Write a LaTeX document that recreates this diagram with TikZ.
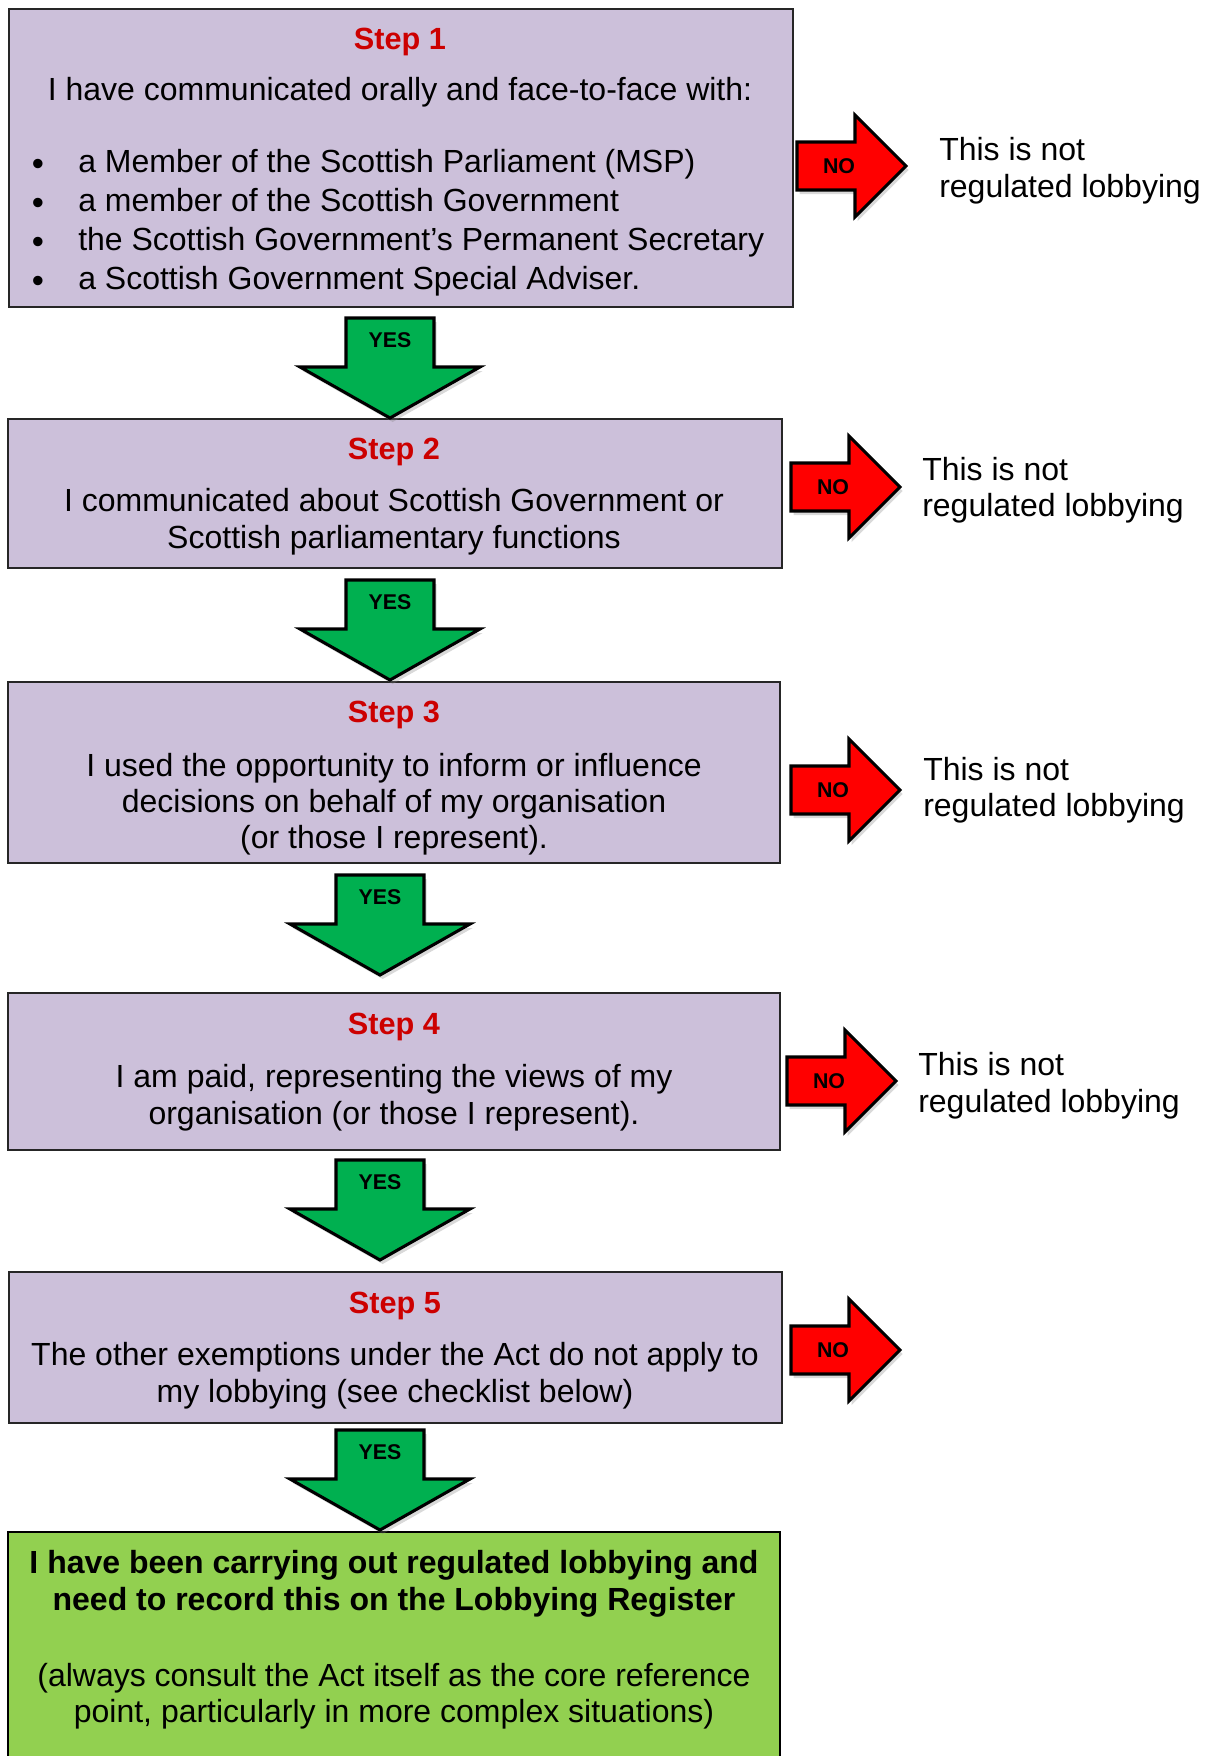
\documentclass[tikz,border=0pt]{standalone}
\usepackage{fontspec}
\setmainfont{Liberation Sans}
\usetikzlibrary{fit,shadows}

\definecolor{boxlilac}{RGB}{204,192,218}
\definecolor{stepred}{RGB}{204,0,0}
\definecolor{yesgreen}{RGB}{0,176,80}
\definecolor{nored}{RGB}{255,0,0}
\definecolor{endgreen}{RGB}{146,208,80}

% green block arrow pointing down: name, centre x, top y
\newcommand{\yesarrow}[3]{%
	\draw[yesarr] (#2-44,#3) -- (#2+44,#3) -- (#2+44,#3+49) -- (#2+90,#3+49)
		-- (#2,#3+100) -- (#2-90,#3+49) -- (#2-44,#3+49) -- cycle;
	\node[arrowtext] (#1) at (#2,#3+22) {YES};}
% red block arrow pointing right: name, left x, middle y
\newcommand{\noarrow}[3]{%
	\draw[noarr] (#2,#3-24) -- (#2+58,#3-24) -- (#2+58,#3-51) -- (#2+109,#3)
		-- (#2+58,#3+51) -- (#2+58,#3+24) -- (#2,#3+24) -- cycle;
	\node[arrowtext] (#1) at (#2+42,#3) {NO};}

\begin{document}
\begin{tikzpicture}[
		x=0.75pt, y=-0.75pt,
		stepbox/.style={draw=black!85, line width=1.5pt, fill=boxlilac, inner sep=0pt},
		endbox/.style={draw=black, line width=1.5pt, fill=endgreen, inner sep=0pt},
		steptitle/.style={font=\fontsize{23}{27}\selectfont\bfseries, text=stepred, anchor=base, inner sep=0pt},
		body/.style={font=\fontsize{24}{28}\selectfont, anchor=base, inner sep=0pt},
		bodybold/.style={body, font=\fontsize{24}{28}\selectfont\bfseries},
		bullet/.style={font=\fontsize{26}{28}\selectfont, anchor=base, inner sep=0pt},
		notreg/.style={font=\fontsize{24}{28}\selectfont, anchor=base west, inner sep=0pt},
		yesarr/.style={draw=black, line width=2.3pt, fill=yesgreen, drop shadow={shadow xshift=2pt, shadow yshift=-3pt, opacity=.3}},
		noarr/.style={draw=black, line width=2.3pt, fill=nored, drop shadow={shadow xshift=2pt, shadow yshift=-3pt, opacity=.3}},
		arrowtext/.style={font=\fontsize{16}{18}\selectfont\bfseries, inner sep=0pt}
		]
		\useasboundingbox (0,0) rectangle (1209,1756);
		
		\node[stepbox, fit={(9,9) (793,307)}] (step1) {};
		\node[steptitle] (title1) at (400,49) {Step 1};
		\node[body] (intro1) at (400,100) {I have communicated orally and face-to-face with:};
		\node[bullet] (dot1) at (38,175) {•};
		\node[bullet] (dot2) at (38,214) {•};
		\node[bullet] (dot3) at (38,253) {•};
		\node[bullet] (dot4) at (38,292) {•};
		\node[body, anchor=base west] (item1) at (78,172) {a Member of the Scottish Parliament (MSP)};
		\node[body, anchor=base west] (item2) at (78,211) {a member of the Scottish Government};
		\node[body, anchor=base west] (item3) at (78,250) {the Scottish Government’s Permanent Secretary};
		\node[body, anchor=base west] (item4) at (78,289) {a Scottish Government Special Adviser.};
		
		\node[stepbox, fit={(8,419) (782,568)}] (step2) {};
		\node[steptitle] (title2) at (394,459) {Step 2};
		\node[body] (text2a) at (394,511) {I communicated about Scottish Government or};
		\node[body] (text2b) at (394,548) {Scottish parliamentary functions};
		
		\node[stepbox, fit={(8,682) (780,863)}] (step3) {};
		\node[steptitle] (title3) at (394,722) {Step 3};
		\node[body] (text3a) at (394,776) {I used the opportunity to inform or influence};
		\node[body] (text3b) at (394,812) {decisions on behalf of my organisation};
		\node[body] (text3c) at (394,848) {(or those I represent).};
		
		\node[stepbox, fit={(8,993) (780,1150)}] (step4) {};
		\node[steptitle] (title4) at (394,1034) {Step 4};
		\node[body] (text4a) at (394,1087) {I am paid, representing the views of my};
		\node[body] (text4b) at (394,1124) {organisation (or those I represent).};
		
		\node[stepbox, fit={(9,1272) (782,1423)}] (step5) {};
		\node[steptitle] (title5) at (395,1313) {Step 5};
		\node[body] (text5a) at (395,1365) {The other exemptions under the Act do not apply to};
		\node[body] (text5b) at (395,1402) {my lobbying (see checklist below)};
		
		\node[endbox, fit={(8,1532) (780,1762)}] (register) {};
		\node[bodybold] (reg1) at (394,1573) {I have been carrying out regulated lobbying and};
		\node[bodybold] (reg2) at (394,1610) {need to record this on the Lobbying Register};
		\node[body] (reg3) at (394,1686) {(always consult the Act itself as the core reference};
		\node[body] (reg4) at (394,1722) {point, particularly in more complex situations)};
		
		% yes arrows between the steps
		\yesarrow{yes1}{390}{318}
		\yesarrow{yes2}{390}{580}
		\yesarrow{yes3}{380}{875}
		\yesarrow{yes4}{380}{1160}
		\yesarrow{yes5}{380}{1430}
		
		% no arrows to the right
		\noarrow{no1}{797}{166}
		\noarrow{no2}{791}{487}
		\noarrow{no3}{791}{790}
		\noarrow{no4}{787}{1081}
		\noarrow{no5}{791}{1350}
		
		\node[notreg] (not1a) at (939,160) {This is not};
		\node[notreg] (not1b) at (939,197) {regulated lobbying};
		\node[notreg] (not2a) at (922,480) {This is not};
		\node[notreg] (not2b) at (922,516) {regulated lobbying};
		\node[notreg] (not3a) at (923,780) {This is not};
		\node[notreg] (not3b) at (923,816) {regulated lobbying};
		\node[notreg] (not4a) at (918,1075) {This is not};
		\node[notreg] (not4b) at (918,1112) {regulated lobbying};
	\end{tikzpicture}
\end{document}
